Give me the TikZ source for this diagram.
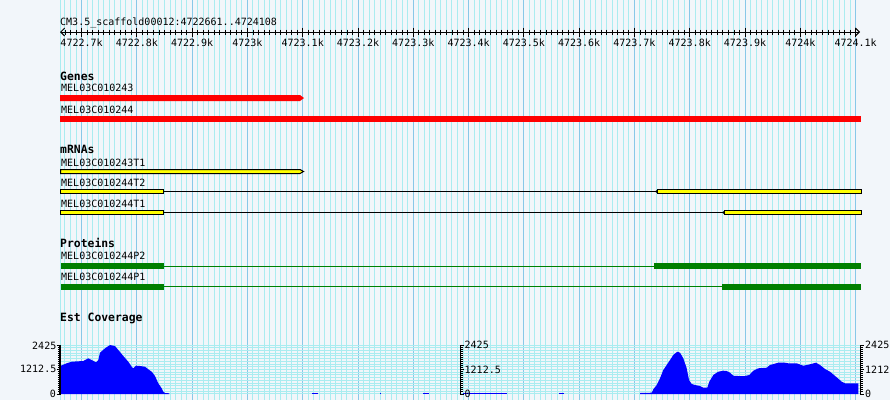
\documentclass[tikz,border=0pt]{standalone}
\usepackage{fontspec}
\newfontfamily\monof{DejaVu Sans Mono}
\usetikzlibrary{arrows.meta}
\definecolor{bgc}{RGB}{242,246,250}
\definecolor{minorc}{RGB}{170,236,240}
\definecolor{majorc}{RGB}{136,200,232}
\definecolor{stripec}{RGB}{170,236,240}
\definecolor{genered}{RGB}{255,0,0}
\definecolor{mrnay}{RGB}{255,255,0}
\definecolor{protg}{RGB}{0,128,0}
\definecolor{covb}{RGB}{0,0,255}
\begin{document}
\begin{tikzpicture}[x=1pt,y=-1pt,
  lbl/.style={anchor=base west, inner sep=0pt, font=\monof\fontsize{10}{11}\selectfont},
  ttl/.style={anchor=base west, inner sep=0pt, font=\monof\bfseries\fontsize{11.4}{13}\selectfont},
  tlab/.style={anchor=base, inner sep=0pt, font=\monof\fontsize{10}{11}\selectfont},
  alabr/.style={anchor=base east, inner sep=0pt, font=\monof\fontsize{10}{11}\selectfont},
  alabl/.style={anchor=base west, inner sep=0pt, font=\monof\fontsize{10}{11}\selectfont},
  minorline/.style={draw=minorc, line width=1pt},
  majorline/.style={draw=majorc, line width=1pt},
  stripe/.style={draw=stripec, line width=1pt},
  rtick/.style={draw=black, line width=0.9pt},
  rulerline/.style={draw=black, line width=0.9pt, {Straight Barb[length=4pt,width=8pt]}-{Straight Barb[length=4pt,width=8pt]}},
  gene/.style={fill=genered, draw=none},
  exon/.style={fill=mrnay, draw=black, line width=1pt, inner sep=0pt, outer sep=0pt},
  intron/.style={draw=black, line width=1.1pt},
  pexon/.style={fill=protg, draw=none, inner sep=0pt, outer sep=0pt},
  pintron/.style={draw=protg, line width=1.1pt},
  cov/.style={fill=covb, draw=none},
  axisline/.style={draw=black, line width=1.2pt},
  atick/.style={draw=black, line width=0.9pt}
]
\useasboundingbox (0,0) rectangle (890,400);
\clip (0,0) rectangle (890,400);
\fill[bgc] (0,0) rectangle (890,400);

% grid
\draw[minorline] (60,0) -- (60,400);
\foreach \i in {0,...,143}{
  \pgfmathsetmacro{\gx}{64.98+5.5287*\i}
  \pgfmathtruncatemacro{\gm}{mod(\i,10)}
  \ifnum\gm=3\relax
    \draw[majorline] (\gx,0) -- (\gx,400);
  \else
    \draw[minorline] (\gx,0) -- (\gx,400);
  \fi
}
% coverage panel stripes
\foreach \yy in {345,347.72,...,394.5}{
  \draw[stripe] (60,\yy) -- (860,\yy);
}
% ruler
\foreach \i in {0,...,143}{
  \pgfmathsetmacro{\gx}{64.98+5.5287*\i}
  \pgfmathtruncatemacro{\gm}{mod(\i,10)}
  \ifnum\gm=3\relax
    \draw[rtick] (\gx,27.5) -- (\gx,36.5);
  \else
    \draw[rtick] (\gx,29.5) -- (\gx,34.5);
  \fi
}
\coordinate (rl) at (60,32);
\coordinate (rr) at (860,32);
\draw[rulerline] (rl) -- (rr);
\node[lbl] (rtitle) at (60,25) {CM3.5\_scaffold00012:4722661..4724108};
\foreach \k/\t in {0/4722.7k,1/4722.8k,2/4722.9k,3/4723k,4/4723.1k,5/4723.2k,6/4723.3k,7/4723.4k,8/4723.5k,9/4723.6k,10/4723.7k,11/4723.8k,12/4723.9k,13/4724k,14/4724.1k}{
  \pgfmathsetmacro{\lx}{81.56+55.287*\k}
  \node[tlab] (tl\k) at (\lx,46) {\t};
}

% Genes
\node[ttl] (genes) at (60,80) {Genes};
\node[lbl] (g243) at (61,91.3) {MEL03C010243};
\fill[gene] (60,95) -- (300,95) -- (304,98) -- (300,101) -- (60,101) -- cycle;
\node[lbl] (g244) at (61,113.3) {MEL03C010244};
\fill[gene] (60,116) rectangle (861,122);

% mRNAs
\node[ttl] (mrnas) at (60,153.5) {mRNAs};
\node[lbl] (m243t1) at (61,166.2) {MEL03C010243T1};
\filldraw[exon] (60.5,169.5) -- (300,169.5) -- (303.5,171.5) -- (300,173.5) -- (60.5,173.5) -- cycle;
\node[lbl] (m244t2) at (61,186.3) {MEL03C010244T2};
\node[exon, minimum width=103pt, minimum height=4pt] (t2a) at (112,191.5) {};
\node[exon, minimum width=204pt, minimum height=4pt] (t2b) at (759.5,191.5) {};
\fill[black] (655,191.5) -- (657.5,189.5) -- (657.5,193.5) -- cycle;
\draw[intron] (t2a.east) -- (t2b.west);
\node[lbl] (m244t1) at (61,207.3) {MEL03C010244T1};
\node[exon, minimum width=103pt, minimum height=4pt] (t1a) at (112,212.5) {};
\node[exon, minimum width=137pt, minimum height=4pt] (t1b) at (793,212.5) {};
\fill[black] (722,212.5) -- (724.5,210.5) -- (724.5,214.5) -- cycle;
\draw[intron] (t1a.east) -- (t1b.west);

% Proteins
\node[ttl] (prots) at (60,247.6) {Proteins};
\node[lbl] (p244p2) at (61,259.7) {MEL03C010244P2};
\node[pexon, minimum width=103pt, minimum height=5.7pt] (p2a) at (112.5,266.2) {};
\node[pexon, minimum width=207pt, minimum height=5.7pt] (p2b) at (757.5,266.2) {};
\draw[pintron] (p2a.east) -- (p2b.west);
\node[lbl] (p244p1) at (61,280.7) {MEL03C010244P1};
\node[pexon, minimum width=103pt, minimum height=5.7pt] (p1a) at (112.5,286.9) {};
\node[pexon, minimum width=139pt, minimum height=5.7pt] (p1b) at (791.5,286.9) {};
\draw[pintron] (p1a.east) -- (p1b.west);

% Est coverage
\node[ttl] (estc) at (60,321.5) {Est Coverage};
\fill[cov] (60,394) -- (60,366) -- (66.7,363.3) -- (71.7,361.7) -- (83.3,361) -- (88.3,358.3) -- (91.7,360) -- (96,362.3) -- (98.3,360) -- (100,352.7) -- (105,348.3) -- (110,345) -- (115,346) -- (118.3,350) -- (123.3,356) -- (128.3,361.7) -- (131.7,366.7) -- (133.3,368.3) -- (136,365.7) -- (140,366) -- (145,366.7) -- (148.3,369.3) -- (151.7,371.7) -- (155,376) -- (158.3,383.3) -- (161.7,388.3) -- (163.3,391.7) -- (165,393) -- (169.3,393.3) -- (169.3,394) -- cycle;
\fill[cov] (311.7,392.5) rectangle (318.3,394);
\fill[cov] (380,392.5) rectangle (381.3,394);
\fill[cov] (423.3,392.5) rectangle (429.3,394);
\fill[cov] (463.3,392.5) rectangle (506.7,394);
\fill[cov] (559.3,392.5) rectangle (564.3,394);
\fill[cov] (640,394) -- (640,393) -- (651.7,392.7) -- (653.3,389.3) -- (656.7,385) -- (660,378.3) -- (663.3,370) -- (666.7,365) -- (670,360) -- (673.3,355) -- (677.3,351.7) -- (680,352.7) -- (683.3,358.3) -- (686.7,368.3) -- (689,380) -- (691.7,384) -- (695,385) -- (700,386) -- (703.3,387.7) -- (707.3,387.7) -- (709.3,381.7) -- (713.3,375) -- (718.3,371.7) -- (723.3,370.7) -- (726.7,371) -- (730,372.7) -- (733.3,375.7) -- (738.3,376) -- (745,376) -- (749.3,375) -- (753.3,370.7) -- (758.3,368.3) -- (766.7,367.7) -- (770,365) -- (778.3,362.7) -- (785,362.7) -- (788.3,363.3) -- (796.7,363.3) -- (803.3,365.7) -- (810,364.3) -- (816,362.7) -- (820,365) -- (825,369) -- (830,371.7) -- (836.7,377.3) -- (841.7,381.7) -- (845,383.3) -- (858.3,383.3) -- (858.3,394) -- cycle;

% axes
\coordinate (la0) at (60,394.5);
\coordinate (la1) at (60,344.5);
\draw[axisline] (la0) -- (la1);
\coordinate (ma0) at (460.5,394.5);
\coordinate (ma1) at (460.5,344.5);
\draw[axisline] (ma0) -- (ma1);
\coordinate (ra0) at (860.5,394.5);
\coordinate (ra1) at (860.5,344.5);
\draw[axisline] (ra0) -- (ra1);
\foreach \yy in {345,347.04,...,394.2}{
  \draw[atick] (57.8,\yy) -- (60,\yy);
  \draw[atick] (460.5,\yy) -- (463,\yy);
  \draw[atick] (860.5,\yy) -- (863,\yy);
}
\foreach \yy in {345,369.5,394}{
  \draw[atick] (56.5,\yy) -- (60,\yy);
  \draw[atick] (460.5,\yy) -- (464,\yy);
  \draw[atick] (860.5,\yy) -- (864,\yy);
}
\node[alabr] (l2425) at (56.5,349.5) {2425};
\node[alabr] (l1212) at (56.5,372.8) {1212.5};
\node[alabr] (l0) at (56,397.6) {0};
\node[alabl] (m2425) at (464.5,348.6) {2425};
\node[alabl] (m1212) at (464.5,373.8) {1212.5};
\node[alabl] (m0) at (464.5,397.6) {0};
\node[alabl] (r2425) at (865,348.6) {2425};
\node[alabl] (r1212) at (865,373.8) {1212};
\node[alabl] (r0) at (865,397.6) {0};
\end{tikzpicture}
\end{document}
